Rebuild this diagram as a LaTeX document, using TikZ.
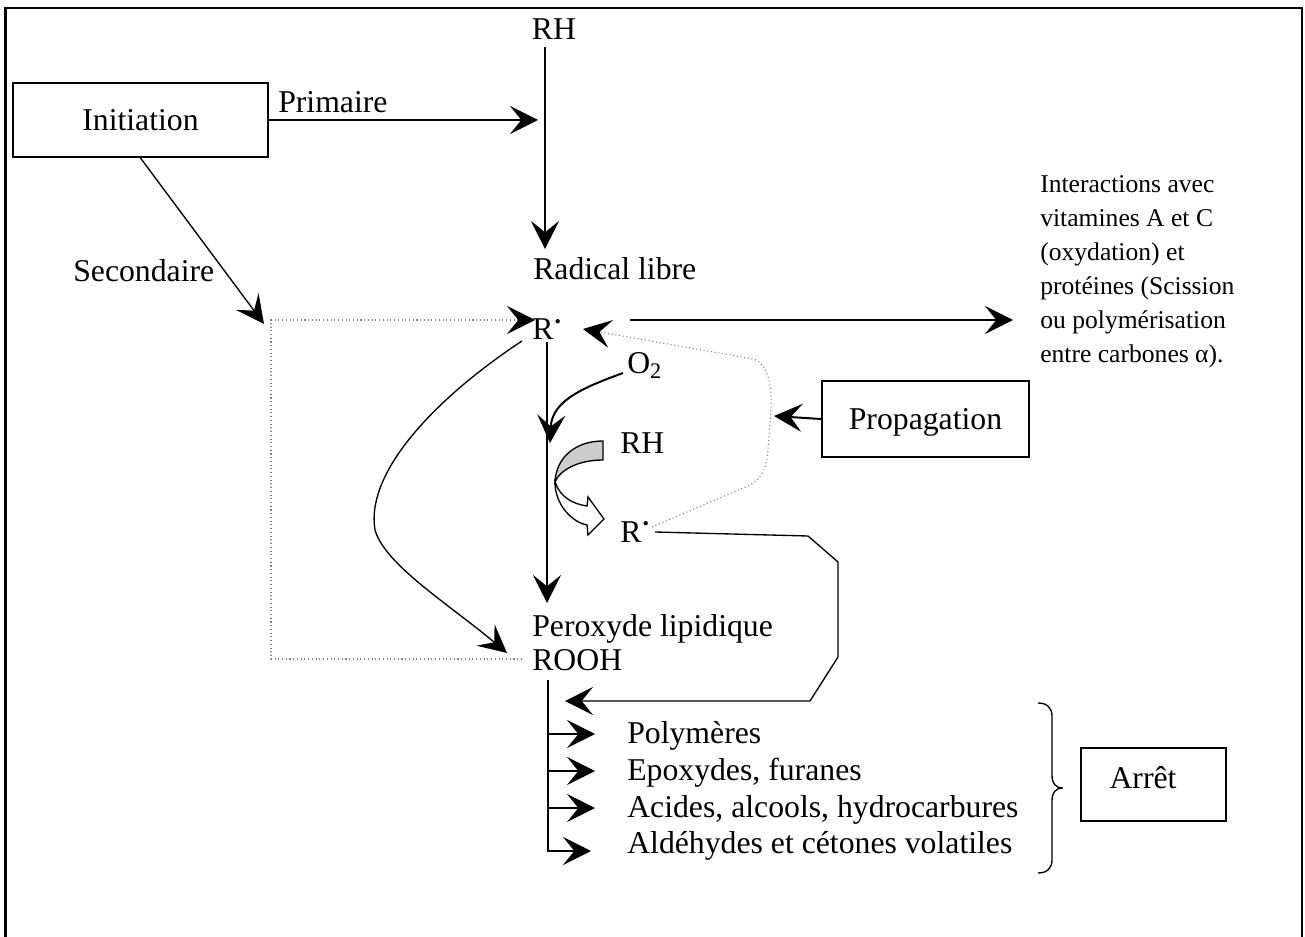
\documentclass[tikz,border=0pt]{standalone}
\usepackage{fontspec}
\setmainfont{Liberation Serif}
\usetikzlibrary{arrows.meta}
\newcommand{\raddot}{\raisebox{0.3em}{\fontsize{20pt}{20pt}\selectfont\textbf{·}}}
\begin{document}
\begin{tikzpicture}[x=0.75pt, y=-0.75pt,
  main/.style={font=\fontsize{23.8pt}{28pt}\selectfont, inner sep=0pt},
  lbl/.style={main, anchor=base west},
  note/.style={font=\fontsize{19.2pt}{25.5pt}\selectfont, inner sep=0pt, anchor=base west},
  stagebox/.style={main, draw, line width=1.5pt, text depth=0pt},
  tipped/.style={-{Stealth[length=21pt, width=21pt, inset=8.5pt]}},
  thick link/.style={tipped, line width=1.5pt},
  thin link/.style={tipped, line width=1pt},
  dotlink/.style={draw=gray, line width=0.8pt, dotted},
  dotarrow/.style={dotlink, -{Stealth[length=21pt, width=21pt, inset=8.5pt, color=black]}},
]
\useasboundingbox (0,0) rectangle (1305,937);

% open frame (no bottom edge)
\draw[line width=2pt] (5.5,937) -- (5.5,8) -- (1302,8) -- (1302,937);

% ---------- nodes ----------
\node[main, anchor=base] (rhtop) at (554,40) {RH};
\node[stagebox, minimum width=191.25pt, minimum height=55.5pt] (init) at (140.5,120) {Initiation};
\node[lbl] (prim) at (278,113) {Primaire};
\node[lbl] (sec) at (73,282) {Secondaire};
\node[lbl] (radical) at (533,280) {Radical libre};
\node[lbl] (r1) at (532,340) {R\raddot};
\node[lbl] (o2) at (627,374) {O\textsubscript{2}};
\node[lbl] (rh2) at (620,453) {RH};
\node[lbl] (r2) at (620,542) {R\raddot};
\node[lbl] (perox) at (532,636) {Peroxyde lipidique};
\node[lbl] (rooh) at (532,670) {ROOH};
\node[stagebox, minimum width=155.25pt, minimum height=57pt] (prop) at (925.5,419) {Propagation};
\node[draw, line width=1pt, inner sep=0pt, minimum width=108.75pt, minimum height=54.75pt] (arretbox) at (1153.5,784.5) {};
\node[main, anchor=base] (arret) at (1143,788) {Arrêt};

\node[note] (i1) at (1040,193) {Interactions avec};
\node[note] (i2) at (1040,227) {vitamines A et C};
\node[note] (i3) at (1040,261) {(oxydation) et};
\node[note] (i4) at (1040,295) {protéines (Scission};
\node[note] (i5) at (1040,329) {ou polymérisation};
\node[note] (i6) at (1040,363) {entre carbones α).};

\node[lbl] (p1) at (627,743) {Polymères};
\node[lbl] (p2) at (627,780) {Epoxydes, furanes};
\node[lbl] (p3) at (627,817) {Acides, alcools, hydrocarbures};
\node[lbl] (p4) at (627,853) {Aldéhydes et cétones volatiles};

% ---------- connector end points ----------
\coordinate (rhfoot) at (545,47);
\coordinate (radtop) at (545,249);
\coordinate (primtip) at (538,120);
\coordinate (sectip) at (264,324);
\coordinate (secjoin) at (271,320);
\coordinate (r1tip) at (535,320);
\coordinate (roohdot) at (522,659);
\coordinate (r1foot) at (547,342);
\coordinate (peroxtop) at (547,603);
\coordinate (loopstart) at (522,341);
\coordinate (looptip) at (507,653);
\coordinate (o2tail) at (623,373);
\coordinate (o2tip) at (550,443);
\coordinate (sidetail) at (630,320);
\coordinate (sidetip) at (1013,320);
\coordinate (r2dot) at (652,527);
\coordinate (r1back) at (583,329);
\coordinate (r2tail) at (655,532);
\coordinate (returntip) at (565,701);
\coordinate (stem) at (548,680);

% ---------- initiation ----------
\draw[thick link] (rhfoot) -- (radtop);
\draw[thick link] (init.east) -- (primtip);
\draw[thin link] (init.south) -- (sectip);
\draw[dotarrow] (roohdot) -| (secjoin) -- (r1tip);

% ---------- propagation ----------
\draw[thick link] (r1foot) -- (peroxtop);
\draw[thin link] (loopstart) .. controls (440,395) and (365,470) .. (375,530)
  .. controls (385,565) and (450,605) .. (looptip);
\draw[thick link] (o2tail) .. controls (585,387) and (552,400) .. (o2tip);
\draw[thick link] (sidetail) -- (sidetip);
\draw[dotarrow] (r2dot) -- (743,488) .. controls (762,481) and (766,470) .. (768,450)
  -- (771,410) .. controls (772,385) and (768,363) .. (753,359) -- (r1back);
\draw[thick link] (prop.west) -- ++(-47,-3);
\draw[thin link] (r2tail) -- (808,536) -- (838,562) -- (838,657) -- (810,701) -- (returntip);

% curved block arrow RH -> R.
\filldraw[fill=gray!40, line width=1pt] (603,441) .. controls (575,441) and (556,458) .. (555,482)
  .. controls (560,470) and (578,460) .. (603,460) -- cycle;
\filldraw[fill=white, line width=1pt] (555,482) .. controls (555,505) and (572,522) .. (587,525)
  -- (588,535) -- (604,519) -- (588,497) -- (587,506)
  .. controls (572,504) and (560,496) .. (556,484) -- cycle;

% ---------- termination ----------
\draw[thin link] (stem) |- (591,851);
\draw[thin link] (548,734) -- (595,734);
\draw[thin link] (548,771) -- (595,771);
\draw[thin link] (548,808) -- (595,808);
\draw[line width=1pt] (1038,703) .. controls (1047,703) and (1052,708) .. (1052,716) -- (1052,775)
  .. controls (1052,783) and (1055,788) .. (1063,788)
  .. controls (1055,788) and (1052,793) .. (1052,801) -- (1052,860)
  .. controls (1052,868) and (1047,873) .. (1038,873);
\end{tikzpicture}
\end{document}
